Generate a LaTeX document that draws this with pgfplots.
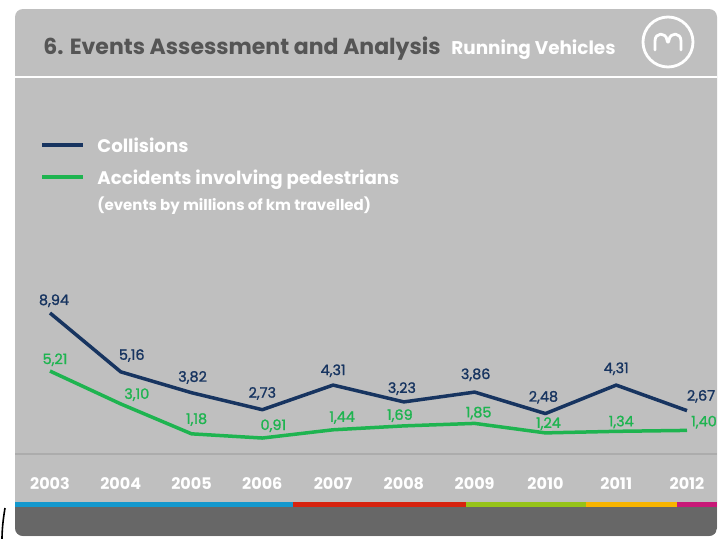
\documentclass[border=0pt]{standalone}
\usepackage{fontspec}
\setmainfont{Poppins}
\newfontfamily\labfont{Poppins}[FakeBold=1.2]
\usepackage{pgfplots}
\pgfplotsset{compat=1.18}
\definecolor{slide}{RGB}{191,191,191}
\definecolor{ttl}{RGB}{85,85,85}
\definecolor{navy}{RGB}{23,52,96}
\definecolor{grn}{RGB}{30,180,80}
\definecolor{barc}{RGB}{103,103,103}
\definecolor{sblue}{RGB}{20,152,205}
\definecolor{sred}{RGB}{215,35,15}
\definecolor{sgreen}{RGB}{150,195,25}
\definecolor{sorange}{RGB}{248,180,0}
\definecolor{smag}{RGB}{200,25,120}
\definecolor{bandline}{RGB}{172,172,172}
\begin{document}
\begin{tikzpicture}
\useasboundingbox (0,0) rectangle (359.5pt,269pt);
\clip (0,0) rectangle (359.5pt,269pt);
\fill[white] (0,0) rectangle (359.5pt,269pt);
\begin{scope}[x=0.5pt,y=-0.5pt,shift={(0,269pt)}]
  \fill[slide,rounded corners=4pt] (15,9) rectangle (717,536);
  \begin{scope}
    \clip[rounded corners=4pt] (15,9) rectangle (717,536);
    \fill[barc] (15,507) rectangle (717,536);
    \fill[sblue] (15,502) rectangle (293,507);
    \fill[sred] (293,502) rectangle (466,507);
    \fill[sgreen] (466,502) rectangle (586,507);
    \fill[sorange] (586,502) rectangle (677,507);
    \fill[smag] (677,502) rectangle (717,507);
  \end{scope}
  \draw[white,line width=0.75pt] (15,77) -- (717,77);
  \draw[bandline,line width=1pt] (15,454) -- (717,454);
  \draw[black,line width=0.8pt] (5,508) .. controls (3,520) and (2,530) .. (2,540);
  % title
  \node[anchor=base west,inner sep=0pt,text=ttl,font=\fontsize{11}{12}\selectfont\bfseries] at (43,54) {6. Events Assessment and Analysis};
  \node[anchor=base west,inner sep=0pt,text=white,font=\fontsize{9.2}{11}\selectfont\bfseries] at (451,54) {Running Vehicles};
  % logo
  \draw[white,line width=1.4pt] (668,42) circle (25);
  \draw[white,line width=1.4pt,line cap=round,line join=round,shift={(668,42)}]
    (-13,8) -- (-13,-1) .. controls (-13,-10) and (-2,-10) .. (-1,-2)
    .. controls (-0.6,1) and (0.6,1) .. (1,-2)
    .. controls (2,-10) and (13,-10) .. (13,-1) -- (13,8);
  % legend
  \draw[navy,line width=2pt] (42,144.5) -- (83,144.5);
  \draw[grn,line width=2pt] (42,177) -- (83,177);
  \node[anchor=base west,inner sep=0pt,text=white,font=\fontsize{9.1}{11}\selectfont\bfseries] at (97,152) {Collisions};
  \node[anchor=base west,inner sep=0pt,text=white,font=\fontsize{9.1}{11}\selectfont\bfseries] at (97,184) {Accidents involving pedestrians};
  \node[anchor=base west,inner sep=0pt,text=white,font=\fontsize{7.5}{9}\selectfont\bfseries] at (97,210) {(events by millions of km travelled)};
\end{scope}
\begin{axis}[at={(0,0)},anchor=south west,scale only axis,
  width=359.5pt,height=269pt,
  xmin=2002.2936,xmax=2012.4521,ymin=-5.51,ymax=29.04,
  axis x line*=bottom,axis y line=none,
  x axis line style={draw=none},major tick length=0pt,
  xtick={2003,2004,2005,2006,2007,2008,2009,2010,2011,2012},
  xticklabels={2003,2004,2005,2006,2007,2008,2009,2010,2011,2012},
  xticklabel style={anchor=base,yshift=24.5pt,text=white,font=\fontsize{8.0}{10}\selectfont\bfseries},
  clip=false]
\addplot[navy,line width=1.75pt,line join=round,mark=none,
  nodes near coords,point meta=explicit symbolic,
  visualization depends on={\thisrow{dx}\as\dx},
  visualization depends on={\thisrow{dy}\as\dy},
  every node near coord/.style={anchor=base,inner sep=0pt,xshift={\dx*0.5pt},yshift={\dy*0.5pt},text=navy,font=\labfont\fontsize{7.2}{9}\selectfont}]
  table[x=year,y=val,meta=lbl]{
year val lbl dx dy
2003 8.94 8,94 4 8
2004 5.16 5,16 11 12
2005 3.82 3,82 1 11
2006 2.73 2,73 0 12
2007 4.31 4,31 0 10
2008 3.23 3,23 -2 9
2009 3.86 3,86 1 13
2010 2.48 2,48 -2 12
2011 4.31 4,31 0 12
2012 2.67 2,67 14 10
};
\addplot[grn,line width=1.75pt,line join=round,mark=none,
  nodes near coords,point meta=explicit symbolic,
  visualization depends on={\thisrow{dx}\as\dx},
  visualization depends on={\thisrow{dy}\as\dy},
  every node near coord/.style={anchor=base,inner sep=0pt,xshift={\dx*0.5pt},yshift={\dy*0.5pt},text=grn,font=\labfont\fontsize{7.2}{9}\selectfont}]
  table[x=year,y=val,meta=lbl]{
year val lbl dx dy
2003 5.21 5,21 5 7
2004 3.10 3,10 16 5
2005 1.18 1,18 5 10
2006 0.91 0,91 11 8
2007 1.44 1,44 9 8
2008 1.69 1,69 -4 6
2009 1.85 1,85 4 6
2010 1.24 1,24 3 5
2011 1.34 1,34 5 5
2012 1.40 1,40 17 4
};
\end{axis}
\end{tikzpicture}
\end{document}
